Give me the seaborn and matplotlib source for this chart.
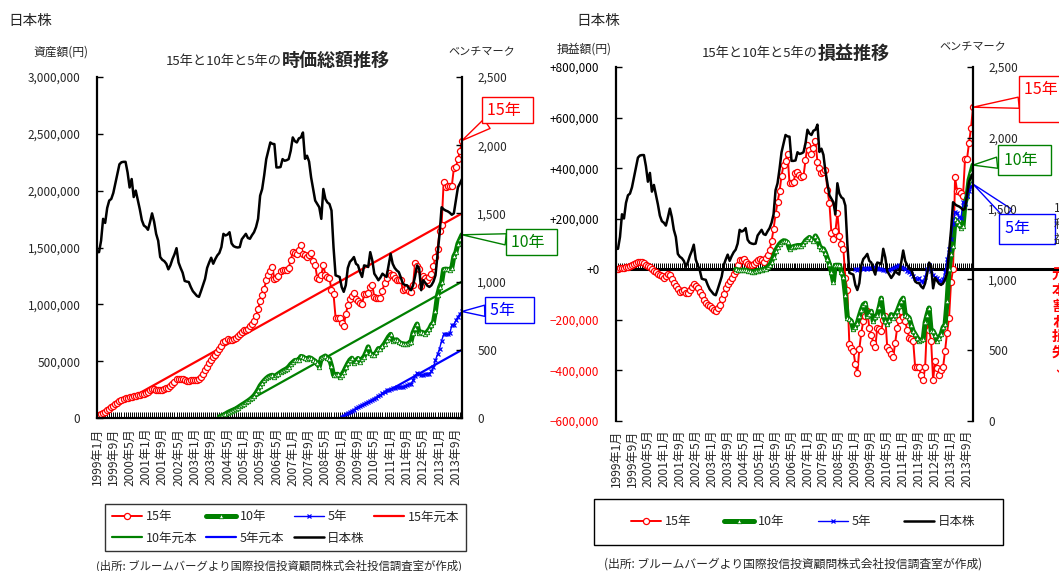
import numpy as np
import pandas as pd
import matplotlib
matplotlib.use("Agg")
import matplotlib.pyplot as plt
from matplotlib.ticker import MultipleLocator
from matplotlib.patches import Rectangle
import seaborn as sns

# ------------------------------------------------------------------ data
n_months = 180  # 1999-01 .. 2013-12, monthly
tick_labels = ["1999年1月", "1999年9月", "2000年5月", "2001年1月", "2001年9月",
               "2002年5月", "2003年1月", "2003年9月", "2004年5月", "2005年1月",
               "2005年9月", "2006年5月", "2007年1月", "2007年9月", "2008年5月",
               "2009年1月", "2009年9月", "2010年5月", "2011年1月", "2011年9月",
               "2012年5月", "2013年1月", "2013年9月"]

# benchmark (日本株), right axis
benchmark = [
    1216, 1216, 1300, 1460, 1430, 1540, 1594, 1606, 1650, 1720,
    1790, 1860, 1875, 1878, 1878, 1800, 1690, 1752, 1620, 1667,
    1600, 1530, 1450, 1411, 1400, 1380, 1436, 1500, 1440, 1350,
    1300, 1180, 1160, 1150, 1131, 1090, 1120, 1165, 1200, 1245,
    1140, 1100, 1065, 1005, 1000, 997, 960, 930, 912, 895,
    888, 930, 975, 1020, 1100, 1140, 1175, 1131, 1165, 1192,
    1210, 1253, 1350, 1338, 1345, 1362, 1280, 1260, 1253, 1250,
    1253, 1310, 1330, 1350, 1320, 1314, 1340, 1362, 1400, 1460,
    1630, 1679, 1780, 1898, 1959, 2020, 2010, 2008, 1837, 1837,
    1840, 1898, 1886, 1890, 1898, 1959, 2057, 2030, 2020, 2050,
    2057, 2093, 1900, 1923, 1880, 1764, 1680, 1594, 1570, 1545,
    1460, 1679, 1606, 1580, 1569, 1521, 1250, 1046, 1040, 1034,
    960, 925, 973, 1100, 1144, 1160, 1180, 1131, 1119, 1070,
    1034, 1119, 1115, 1107, 1216, 1156, 1058, 1035, 1010, 1030,
    1058, 1045, 1034, 1120, 1204, 1131, 1100, 1082, 1070, 1030,
    985, 975, 973, 950, 937, 973, 1040, 1119, 1095, 937,
    1010, 990, 970, 961, 973, 1000, 1046, 1200, 1350, 1545,
    1530, 1521, 1515, 1505, 1490, 1500, 1594, 1691, 1720, 1752,
]

# profit / loss (thousand yen) of each monthly savings plan
profit15_k = [
    0, 2, 4, 5, 7, 9, 11, 13, 17, 22,
    26, 28, 29, 28, 24, 18, 13, 9, 2, -5,
    -12, -17, -21, -27, -34, -28, -20, -22, -38, -55,
    -66, -78, -88, -85, -82, -95, -92, -80, -70, -58,
    -65, -75, -90, -103, -122, -132, -140, -147, -155, -162,
    -166, -155, -140, -118, -98, -75, -60, -45, -36, -20,
    -6, 15, 35, 38, 42, 30, 20, 16, 18, 22,
    30, 38, 42, 35, 29, 45, 58, 75, 110, 160,
    217, 265, 308, 370, 412, 430, 457, 340, 340, 345,
    380, 386, 373, 366, 368, 431, 490, 470, 457, 480,
    509, 425, 400, 379, 385, 392, 314, 262, 145, 119,
    150, 223, 132, 100, 81, -36, -82, -296, -310, -322,
    -374, -410, -316, -250, -205, -185, -166, -231, -260, -290,
    -309, -231, -238, -244, -200, -186, -309, -320, -335, -348,
    -290, -231, -200, -166, -190, -205, -240, -270, -275, -283,
    -387, -387, -387, -420, -439, -387, -205, -240, -283, -439,
    -361, -390, -419, -400, -387, -322, -250, -192, -49, 0,
    364, 311, 308, 300, 291, 436, 436, 500, 558, 641,
]
profit10_k = [
    0, -2, -4, -4, -3, -4, -6, -8, -10, -9,
    -7, -5, -4, -2, 0, 3, 8, 16, 30, 50,
    74, 88, 100, 108, 113, 112, 106, 81, 87, 90,
    92, 94, 94, 94, 100, 113, 120, 126, 118, 113,
    132, 118, 94, 81, 81, 65, 42, 20, -10, -49,
    16, 16, 16, -10, -30, -101, -192, -198, -205, -238,
    -230, -212, -185, -160, -140, -134, -186, -175, -166, -205,
    -190, -179, -150, -114, -180, -205, -218, -200, -179, -192,
    -180, -166, -145, -125, -114, -179, -185, -192, -220, -244,
    -257, -270, -283, -280, -277, -210, -179, -153, -244, -244,
    -260, -283, -270, -257, -230, -218, -127, 0, 60, 94,
    197, 190, 178, 165, 170, 262, 288, 353, 383, 412,
]
profit5_k = [
    0, -2, 2, 4, 3, 5, 2, 4, 6, 9,
    7, 5, 3, 2, -2, -4, -5, -2, 0, 5,
    8, 12, 16, 10, 5, 3, -5, -10, -17, -25,
    -36, -40, -36, -45, -51, -30, 3, 16, -5, -23,
    -30, -36, -44, -49, -40, -12, 40, 81, 120, 180,
    225, 223, 206, 204, 265, 260, 290, 311, 327, 337,
]
monthly_contribution = 10000          # yen invested every month
start15, start10, start5 = 0, 60, 120  # first month of each plan

# ------------------------------------------------------------------ frames
months = np.arange(n_months)


def plan_frame(profit_k, start):
    m = months[start:]
    principal = monthly_contribution * (m - start + 1)
    profit = np.asarray(profit_k, dtype=float) * 1000
    return pd.DataFrame({"month": m, "principal": principal,
                         "profit": profit, "value": principal + profit})


df15 = plan_frame(profit15_k, start15)
df10 = plan_frame(profit10_k, start10)
df5 = plan_frame(profit5_k, start5)
dfb = pd.DataFrame({"month": months, "bench": benchmark})

RED, GREEN, BLUE, BLACK = "#FF0000", "#008000", "#0000FF", "#000000"

sns.set_theme(style="white")
plt.rcParams["font.family"] = ["Noto Sans CJK JP", "DejaVu Sans"]
plt.rcParams["axes.unicode_minus"] = False

W, H = 1059, 571
fig = plt.figure(figsize=(W / 100, H / 100), dpi=100)
fig.patch.set_facecolor("white")


def fx(px):
    return px / W


def fy(py):
    return 1 - py / H


style15 = dict(color=RED, linewidth=1.4, marker="o", markersize=4.4,
               markerfacecolor="white", markeredgecolor=RED, markeredgewidth=0.9)
style10 = dict(color=GREEN, linewidth=3.6, marker="^", markersize=3.2,
               markerfacecolor="white", markeredgecolor=GREEN, markeredgewidth=0.6)
style5 = dict(color=BLUE, linewidth=1.0, marker="x", markersize=3.5,
              markeredgecolor=BLUE, markeredgewidth=0.9)


def line(ax, df, y, label, **kw):
    sns.lineplot(data=df, x="month", y=y, ax=ax, label=label,
                 errorbar=None, **kw)


def clean(ax):
    leg = ax.get_legend()
    if leg is not None:
        leg.remove()
    ax.set_xlabel("")
    ax.set_ylabel("")


x_ticks = np.arange(0, n_months, 8)[:len(tick_labels)]

# ================================================================ left panel
ax1 = fig.add_axes([fx(97), fy(418), fx(462 - 97), (418 - 77) / H])
ax1b = ax1.twinx()

line(ax1, df15, "principal", "15年元本", color=RED, linewidth=1.6)
line(ax1, df10, "principal", "10年元本", color=GREEN, linewidth=1.6)
line(ax1, df5, "principal", "5年元本", color=BLUE, linewidth=1.6)
line(ax1, df15, "value", "15年", **style15)
line(ax1, df10, "value", "10年", **style10)
line(ax1, df5, "value", "5年", **style5)
line(ax1b, dfb, "bench", "日本株", color=BLACK, linewidth=1.8)
clean(ax1)
clean(ax1b)

ax1.set_xlim(0, n_months - 1)
ax1.set_ylim(0, 3_000_000)
yt = np.arange(0, 3_000_001, 500_000)
ax1.set_yticks(yt)
ax1.set_yticklabels([f"{v:,}" for v in yt])
ax1.set_xticks(x_ticks)
ax1.set_xticklabels(tick_labels, rotation=90)
ax1.xaxis.set_minor_locator(MultipleLocator(1))
ax1.tick_params(axis="x", which="both", direction="in", length=4, width=0.7,
                color=BLACK, labelsize=8.7, pad=7, bottom=True)
ax1.tick_params(axis="y", direction="in", length=4, width=1, color=BLACK,
                labelsize=8.5, pad=12, left=True)
ax1b.set_ylim(0, 2500)
bt = np.arange(0, 2501, 500)
ax1b.set_yticks(bt)
ax1b.set_yticklabels([f"{v:,}" for v in bt])
ax1b.tick_params(axis="y", direction="in", length=4, width=1, color=BLACK,
                 labelsize=8.5, pad=11, right=True)
for sp in ["left", "bottom"]:
    ax1.spines[sp].set_color(BLACK)
    ax1.spines[sp].set_linewidth(1.6)
for sp in ["top", "right"]:
    ax1.spines[sp].set_visible(False)
for sp in ["top", "left", "bottom"]:
    ax1b.spines[sp].set_visible(False)
ax1b.spines["right"].set_color(BLACK)
ax1b.spines["right"].set_linewidth(1.6)

# legend (left)
hd = {}
for a in (ax1, ax1b):
    h, l = a.get_legend_handles_labels()
    hd.update(dict(zip(l, h)))
order_left = ["15年", "10年元本", "10年", "5年元本", "5年", "日本株", "15年元本"]
legL = fig.legend([hd[k] for k in order_left], order_left, ncol=4,
                  loc="center", bbox_to_anchor=(fx(105), fy(552), fx(361), 49 / H),
                  mode="expand", frameon=True, fancybox=False, edgecolor=BLACK,
                  fontsize=9, handlelength=2.4, handletextpad=0.3,
                  labelspacing=0.65, borderpad=0.55, borderaxespad=0)
legL.get_frame().set_linewidth(1.0)


# callouts
def callout(ax, text, xy, pos, color, ha="left", va="center", pad=0.3):
    ax.annotate(text, xy=xy, xycoords="data", xytext=(pos[0], H - pos[1]),
                textcoords="figure pixels", ha=ha, va=va, color=color,
                fontsize=11.5, annotation_clip=False,
                bbox=dict(boxstyle=f"square,pad={pad}", fc="white", ec=color, lw=1.0),
                arrowprops=dict(arrowstyle="wedge,tail_width=0.7,shrink_factor=0.5",
                                fc="white", ec=color, lw=1.0,
                                shrinkA=0, shrinkB=0))


last = n_months - 1
callout(ax1, "15年  ", (last, df15["value"].iloc[-1]), (487, 110), RED)
callout(ax1, "10年  ", (last, df10["value"].iloc[-1]), (511, 242), GREEN)
callout(ax1, "5年    ", (last, df5["value"].iloc[-1]), (490, 310), BLUE)

# texts (left)
fig.text(fx(8), fy(21), "日本株", fontsize=10.5, ha="left", va="center")
fig.text(fx(61), fy(52), "資産額(円)", fontsize=8.5, ha="center", va="center")
fig.text(fx(282), fy(61), "15年と10年と5年の", fontsize=9.5, ha="right", va="center")
fig.text(fx(282), fy(60), "時価総額推移", fontsize=13, fontweight="bold",
         ha="left", va="center")
fig.text(fx(482), fy(52), "ベンチマーク", fontsize=8, ha="center", va="center")
fig.text(fx(279), fy(566), "(出所: ブルームバーグより国際投信投資顧問株式会社投信調査室が作成)",
         fontsize=8.2, ha="center", va="center")

# =============================================================== right panel
ax2 = fig.add_axes([fx(616), fy(421), fx(973 - 616), (421 - 67) / H])
ax2b = ax2.twinx()

ymin, ymax = -600_000, 800_000
ax2.axhline(0, xmin=0, xmax=1.3, color=BLACK, linewidth=2.2, clip_on=False, zorder=1.5)
line(ax2, df15, "profit", "15年", **style15)
line(ax2, df10, "profit", "10年", **style10)
line(ax2, df5, "profit", "5年", **style5)
line(ax2b, dfb, "bench", "日本株", color=BLACK, linewidth=1.8)
clean(ax2)
clean(ax2b)

ax2.set_xlim(0, n_months - 1)
ax2.set_ylim(ymin, ymax)
pt = np.arange(ymin, ymax + 1, 200_000)
plabels = []
for v in pt:
    if v > 0:
        plabels.append(f"+{v:,}")
    elif v == 0:
        plabels.append("+0")
    else:
        plabels.append(f"\u2212{-v:,}")
ax2.set_yticks(pt)
ax2.set_yticklabels(plabels)
for lab, v in zip(ax2.get_yticklabels(), pt):
    lab.set_color(RED if v < 0 else BLACK)
ax2.tick_params(axis="y", direction="in", length=4, width=1, color=BLACK,
                labelsize=8.5, pad=12, left=True)
ax2.set_xticks(x_ticks)
ax2.set_xticklabels(tick_labels, rotation=90)
ax2.tick_params(axis="x", length=0, labelsize=8.7, pad=6)
for sp in ["top", "right", "bottom"]:
    ax2.spines[sp].set_visible(False)
ax2.spines["left"].set_color(BLACK)
ax2.spines["left"].set_linewidth(1.6)

# monthly tick marks on the zero line
sec = ax2.secondary_xaxis((0 - ymin) / (ymax - ymin))
sec.xaxis.set_major_locator(MultipleLocator(1))
sec.tick_params(axis="x", direction="in", length=4, width=0.7, color=BLACK,
                labelbottom=False, labeltop=False)
for s in sec.spines.values():
    s.set_visible(False)

ax2b.set_ylim(0, 2500)
ax2b.set_yticks(bt)
ax2b.set_yticklabels([f"{v:,}" for v in bt])
ax2b.tick_params(axis="y", direction="in", length=4, width=1, color=BLACK,
                 labelsize=8.5, pad=11, right=True)
for sp in ["top", "left", "bottom"]:
    ax2b.spines[sp].set_visible(False)
ax2b.spines["right"].set_color(BLACK)
ax2b.spines["right"].set_linewidth(1.6)

# legend (right)
hd2 = {}
for a in (ax2, ax2b):
    h, l = a.get_legend_handles_labels()
    hd2.update(dict(zip(l, h)))
order_right = ["15年", "10年", "5年", "日本株"]
fig.patches.append(Rectangle((fx(594), fy(545)), fx(409), 46 / H,
                             transform=fig.transFigure, fill=False,
                             ec=BLACK, lw=1.0))
fig.legend([hd2[k] for k in order_right], order_right, ncol=4, loc="center",
           bbox_to_anchor=(fx(626), fy(545), fx(354), 46 / H), mode="expand",
           frameon=False, fontsize=9, handlelength=2.4, handletextpad=0.3,
           borderaxespad=0)

callout(ax2, "15年       \n", (last, df15["profit"].iloc[-1]), (1024, 81), RED,
        va="top", pad=0.3)
callout(ax2, "10年  ", (last, df10["profit"].iloc[-1]), (1004, 160), GREEN, pad=0.4)
callout(ax2, "5年     ", (last, df5["profit"].iloc[-1]), (1005, 229), BLUE, pad=0.4)

fig.text(fx(576), fy(21), "日本株", fontsize=10.5, ha="left", va="center")
fig.text(fx(584), fy(49), "損益額(円)", fontsize=8.5, ha="center", va="center")
fig.text(fx(818), fy(54), "15年と10年と5年の", fontsize=9.5, ha="right", va="center")
fig.text(fx(818), fy(53), "損益推移", fontsize=13, fontweight="bold",
         ha="left", va="center")
fig.text(fx(973), fy(47), "ベンチマーク", fontsize=8, ha="center", va="center")
fig.text(fx(793), fy(564), "(出所: ブルームバーグより国際投信投資顧問株式会社投信調査室が作成)",
         fontsize=8.5, ha="center", va="center")

# partially visible notes at the right edge (cut by the figure edge, as in the original)
fig.text(fx(1054), fy(224), "1\n利\n益", fontsize=8.5, ha="left", va="center",
         linespacing=1.25)
fig.text(fx(1052), fy(321), "元\n本\n割\nれ\n損\n失\n↓", fontsize=10.5,
         fontweight="bold", color=RED, ha="left", va="center", linespacing=0.95)

fig.savefig("out.png", dpi=100)
